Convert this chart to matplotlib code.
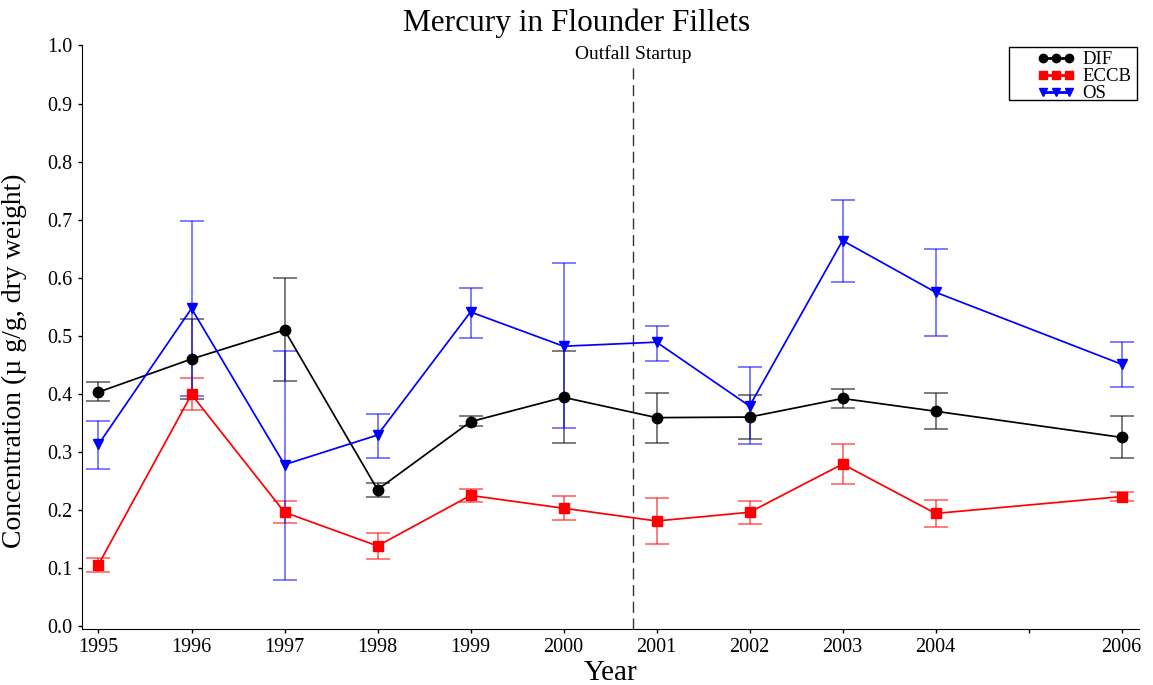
import matplotlib
matplotlib.use("Agg")
import matplotlib.pyplot as plt
from matplotlib.patches import Rectangle
import numpy as np

plt.rcParams['font.family'] = ['Liberation Serif', 'DejaVu Serif']

years = [1995, 1996, 1997, 1998, 1999, 2000, 2001, 2002, 2003, 2004, 2006]

dif = [0.403, 0.460, 0.510, 0.235, 0.352, 0.394, 0.359, 0.360, 0.392, 0.370, 0.325]
dif_lo = [0.387, 0.391, 0.422, 0.223, 0.344, 0.316, 0.315, 0.322, 0.376, 0.339, 0.289]
dif_hi = [0.420, 0.529, 0.599, 0.246, 0.362, 0.473, 0.402, 0.398, 0.408, 0.401, 0.362]

eccb = [0.106, 0.399, 0.196, 0.138, 0.225, 0.203, 0.181, 0.196, 0.279, 0.194, 0.223]
eccb_lo = [0.093, 0.372, 0.177, 0.115, 0.214, 0.182, 0.141, 0.176, 0.244, 0.171, 0.215]
eccb_hi = [0.118, 0.427, 0.216, 0.160, 0.236, 0.224, 0.220, 0.216, 0.314, 0.217, 0.231]

os_ = [0.313, 0.547, 0.278, 0.329, 0.541, 0.482, 0.489, 0.379, 0.664, 0.575, 0.451]
os_lo = [0.270, 0.396, 0.080, 0.290, 0.496, 0.341, 0.456, 0.313, 0.593, 0.499, 0.411]
os_hi = [0.354, 0.697, 0.474, 0.366, 0.583, 0.625, 0.516, 0.446, 0.734, 0.649, 0.489]

xticks = [1995, 1996, 1997, 1998, 1999, 2000, 2001, 2002, 2003, 2004, 2005, 2006]
xticklabels = ['1995', '1996', '1997', '1998', '1999', '2000', '2001', '2002', '2003', '2004', '', '2006']
yticks = [0.0, 0.1, 0.2, 0.3, 0.4, 0.5, 0.6, 0.7, 0.8, 0.9, 1.0]
outfall_year = 2000.75

fig = plt.figure(figsize=(11.53, 6.85), dpi=100)
ax = fig.add_axes([0.0709, 0.0818, 0.9172, 0.8518])

series = [
    ('DIF', dif, dif_lo, dif_hi, 'black', 'o', 7.5),
    ('ECCB', eccb, eccb_lo, eccb_hi, 'red', 's', 6.5),
    ('OS', os_, os_lo, os_hi, 'blue', 'v', 7.5),
]
for name, v, lo, hi, col, mk, ms in series:
    v = np.array(v); lo = np.array(lo); hi = np.array(hi)
    ax.errorbar(years, v, yerr=[v - lo, hi - v], fmt='none', ecolor=col,
                elinewidth=1.2, capsize=8.5, capthick=1.2, alpha=0.6, zorder=2)
    ax.plot(years, v, color=col, marker=mk, markersize=ms, linewidth=1.25,
            label=name, zorder=3)

ax.axvline(outfall_year, ymin=0, ymax=0.965, color='black', linestyle=(0, (8, 4)),
           linewidth=1.0, alpha=0.8)
ax.text(outfall_year, 0.986, 'Outfall Startup', ha='center', va='center', fontsize=14)

ax.set_xlim(1994.82, 2006.19)
ax.set_ylim(-0.005, 1.0)
ax.set_xticks(xticks)
ax.set_xticklabels(xticklabels, fontsize=14.5)
ax.set_yticks(yticks)
ax.set_yticklabels([f'{t:.1f}' for t in yticks], fontsize=14.5)
ax.tick_params(direction='out', length=3, width=1)
ax.spines['top'].set_visible(False)
ax.spines['right'].set_visible(False)

fig.text(0.5, 1 - 23 / 685, 'Mercury in Flounder Fillets', ha='center', va='center',
         fontsize=22.5)
ax.set_xlabel('Year', fontsize=21, labelpad=2)
ax.set_ylabel('Concentration (µ g/g, dry weight)', fontsize=20, labelpad=8)
ax.yaxis.set_label_coords(-0.052, 0.46)

leg = ax.legend(loc='upper right', bbox_to_anchor=(1131 / 1153, 1 - 51 / 685),
                bbox_transform=fig.transFigure, numpoints=3,
                fontsize=13.5, frameon=False,
                markerscale=0.8, handlelength=2.0, handletextpad=0.4,
                labelspacing=0.0, borderpad=0.0, borderaxespad=0.0)
for h in leg.get_lines():
    h.set_linewidth(2.0)
fig.patches.append(Rectangle((1009 / 1153, 1 - 100 / 685), 128 / 1153, 53 / 685,
                             transform=fig.transFigure, fill=False,
                             edgecolor='black', linewidth=1.0))

fig.savefig('out.png', dpi=100)
